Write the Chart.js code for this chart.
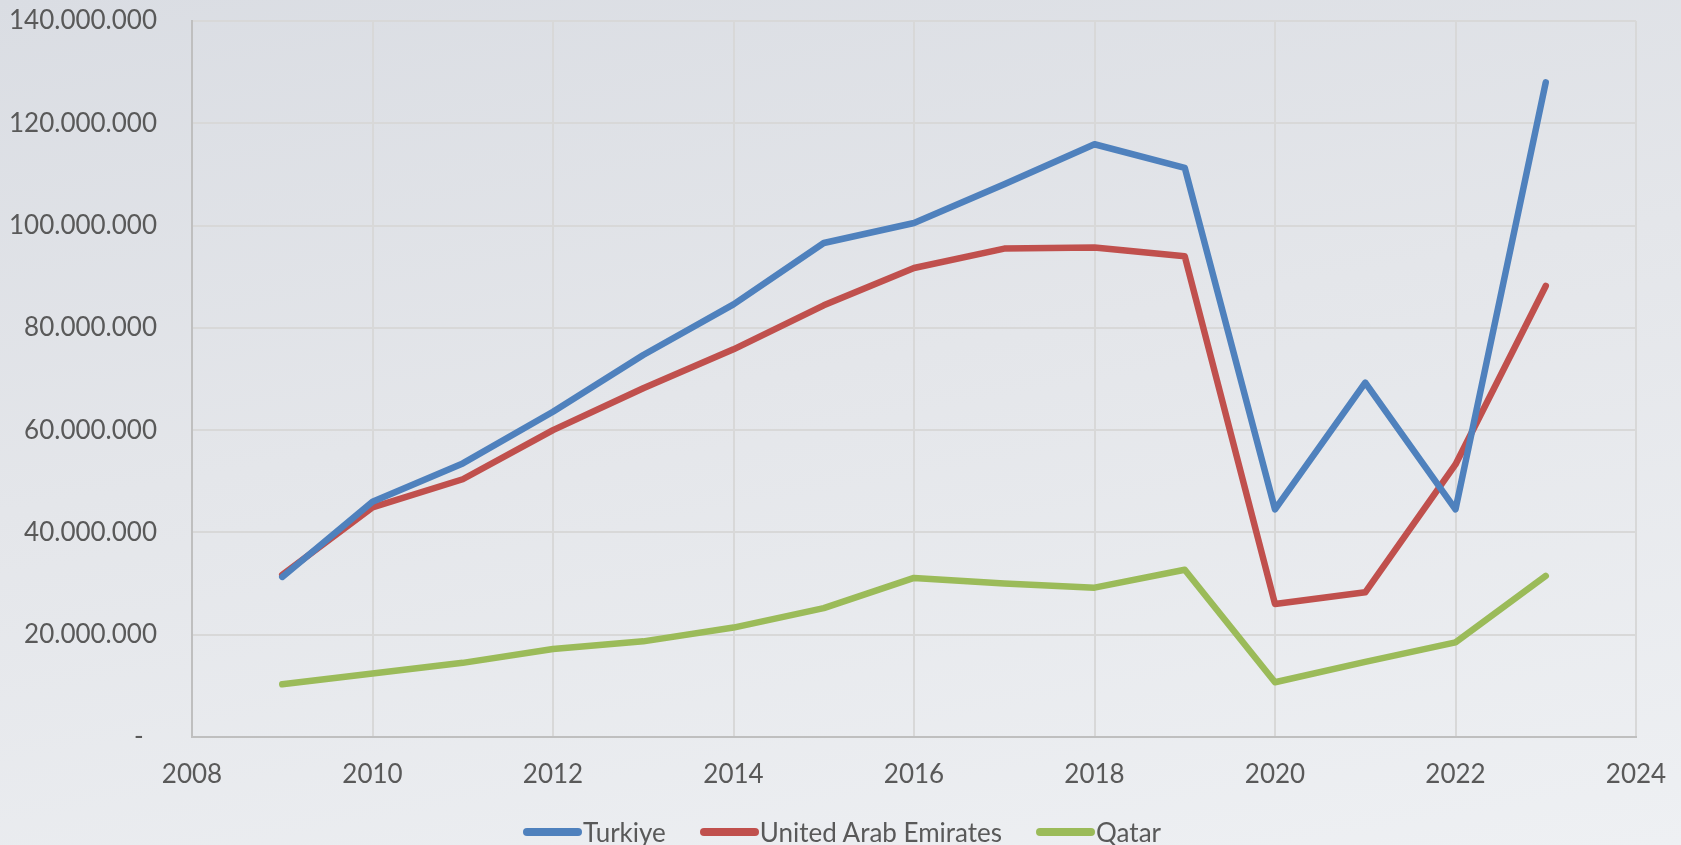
<!DOCTYPE html>
<html>
<head>
<meta charset="utf-8">
<script src="https://cdn.jsdelivr.net/npm/chart.js@4"></script>
<style>
html,body{margin:0;padding:0;}
body{
width:1681px;height:845px;overflow:hidden;position:relative;
background:linear-gradient(170deg,#dadde3 0%,#e4e6ea 45%,#eef0f3 100%);
font-family:Lato,sans-serif;
}
#wrap{position:absolute;left:0;top:0;width:1681px;height:845px;}
#legenda{position:absolute;left:523px;top:815px;display:flex;align-items:center;
font-size:26px;color:#595959;line-height:34px;}
#legenda .item{display:flex;align-items:center;margin-right:34px;}
#legenda .linha{display:inline-block;width:59px;height:8px;border-radius:4px;margin-right:1px;}
</style>
</head>
<body>
<div id="wrap"><canvas id="grafico"></canvas></div>
<div id="legenda"></div>
<script>

// dados
const anos = [2009,2010,2011,2012,2013,2014,2015,2016,2017,2018,2019,2020,2021,2022,2023];

const series = ["Turkiye","United Arab Emirates","Qatar"];

const turkiye = [31.3,46.0,53.5,63.6,74.7,84.6,96.6,100.5,108.1,115.9,111.3,44.5,69.3,44.5,128.0];

const emirados = [31.7,44.9,50.4,60.0,68.2,75.8,84.4,91.7,95.5,95.7,94.0,26.0,28.3,53.3,88.2];

const catar = [10.3,12.4,14.5,17.2,18.7,21.4,25.2,31.1,30.0,29.2,32.7,10.7,14.7,18.5,31.5];

const cores = ["#4F81BD","#C0504D","#9BBB59"];



const valores = [turkiye, emirados, catar];


function pontos(lista){
return lista.map((v,i)=>({x:anos[i], y:v*1000000}));
}


// zero aparece como "-" (formato contábil)
function formatar(v){
if(v===0) return "-  ";
return String(Math.round(v)).replace(/\B(?=(\d{3})+(?!\d))/g,".");
}


const fonte = {family:"Lato", size:26};

const canvas = document.getElementById("grafico");
canvas.width = 1681;
canvas.height = 845;


new Chart(canvas,{

type:"line",

data:{
datasets: series.map((nome,i)=>({
label:nome,
data:pontos(valores[i]),
borderColor:cores[i],
backgroundColor:cores[i],
borderWidth:6.5,
pointRadius:0,
borderCapStyle:"round",
borderJoinStyle:"round",
tension:0
}))
},

options:{
responsive:false,
animation:false,
layout:{padding:{left:0,right:45,top:21,bottom:0}},
plugins:{
legend:{display:false},
tooltip:{enabled:false}
},
scales:{
x:{
type:"linear",
min:2008,
max:2024,
afterFit:(s)=>{ s.height = 108; },
ticks:{
stepSize:2,
color:"#595959",
font:fonte,
padding:0,
maxRotation:0,
callback:(v)=>String(v)
},
grid:{color:"#d8d8d8",lineWidth:2,drawTicks:true,tickLength:22,tickColor:"rgba(0,0,0,0)"},
border:{color:"#bfbfbf",width:2}
},
y:{
min:0,
max:140000000,
afterFit:(s)=>{ s.width = 192; },
ticks:{
stepSize:20000000,
color:"#595959",
font:fonte,
padding:0,
callback:(v)=>formatar(v)
},
grid:{color:"#d8d8d8",lineWidth:2,drawTicks:true,tickLength:35,tickColor:"rgba(0,0,0,0)"},
border:{color:"#bfbfbf",width:2}
}
}
}

});



// legenda
const legenda = document.getElementById("legenda");

series.forEach((nome,i)=>{
const item = document.createElement("span");
item.className = "item";
const linha = document.createElement("span");
linha.className = "linha";
linha.style.background = cores[i];
const texto = document.createElement("span");
texto.textContent = nome;
item.appendChild(linha);
item.appendChild(texto);
legenda.appendChild(item);
});

</script>
</body>
</html>
